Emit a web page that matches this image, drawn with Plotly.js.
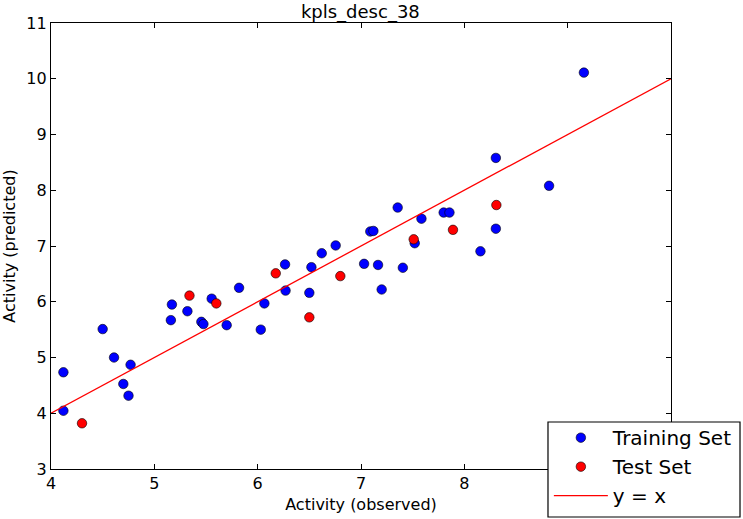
<!DOCTYPE html>
<html>
<head>
<meta charset="utf-8">
<script src="https://cdn.plot.ly/plotly-3.0.1.min.js"></script>
<style>body{margin:0;padding:0;background:#fff}#chart{width:743px;height:519px}</style>
</head>
<body>
<div id="chart"></div>
<script>
var trainObserved = [4.12, 4.12, 4.50, 4.61, 4.70, 4.75, 4.77, 5.16, 5.17, 5.32, 5.455, 5.475, 5.555, 5.70, 5.82, 6.03, 6.065, 6.265, 6.27, 6.52, 6.50, 6.62, 6.755, 7.09, 7.12, 7.03, 7.165, 7.20, 7.355, 7.585, 7.52, 7.405, 7.80, 7.856, 8.305, 8.305, 8.156, 8.82, 9.157];
var trainPredicted = [4.735, 4.045, 5.51, 5.0, 4.525, 4.315, 4.87, 5.67, 5.95, 5.83, 5.64, 5.60, 6.055, 5.58, 6.25, 5.50, 5.97, 6.67, 6.20, 6.62, 6.16, 6.87, 7.01, 7.26, 7.27, 6.68, 6.66, 6.22, 7.69, 7.49, 7.05, 6.61, 7.60, 7.60, 8.58, 7.31, 6.905, 8.08, 10.11];
var testObserved = [4.30, 5.34, 5.60, 6.175, 6.50, 6.80, 7.51, 7.89, 8.31];
var testPredicted = [3.82, 6.11, 5.97, 6.51, 5.72, 6.46, 7.12, 7.29, 7.735];
var lineX = [4, 10];
var lineY = [4, 10];
var xTicks = [4, 5, 6, 7, 8, 9, 10];
var xTickLabels = ["4", "5", "6", "7", "8", "", ""];
var yTicks = [3, 4, 5, 6, 7, 8, 9, 10, 11];
var yTickLabels = ["3", "4", "5", "6", "7", "8", "9", "10", "11"];

var font = "DejaVu Sans, sans-serif";
var traces = [
  {x: trainObserved, y: trainPredicted, mode: "markers", type: "scatter", name: "Training Set", legendgroup: "a",
   marker: {color: "#0000ff", size: 9.5, line: {color: "#000", width: 0.6}}},
  {x: testObserved, y: testPredicted, mode: "markers", type: "scatter", name: "Test Set", legendgroup: "b",
   marker: {color: "#ff0000", size: 9.5, line: {color: "#000", width: 0.6}}},
  {x: lineX, y: lineY, mode: "lines", type: "scatter", name: "y = x", legendgroup: "c",
   line: {color: "#ff0000", width: 1.3}}
];
var axisCommon = {
  showgrid: false, zeroline: false, showline: true, linecolor: "#000", linewidth: 1.2,
  mirror: "allticks", ticks: "inside", ticklen: 5, tickcolor: "#000", tickwidth: 1,
  tickfont: {family: font, size: 16, color: "#000"}
};
var layout = {
  width: 743, height: 519,
  margin: {l: 51, r: 72, t: 23, b: 50, autoexpand: false},
  paper_bgcolor: "#fff", plot_bgcolor: "#fff",
  title: {text: "kpls_desc_38", font: {family: font, size: 18, color: "#000"}, x: 0.485, xanchor: "center", y: 0.978, yanchor: "middle"},
  xaxis: Object.assign({}, axisCommon, {range: [4, 10], tickvals: xTicks, ticktext: xTickLabels,
    title: {text: "Activity (observed)", font: {family: font, size: 16, color: "#000"}, standoff: 6}}),
  yaxis: Object.assign({}, axisCommon, {range: [3, 11], tickvals: yTicks, ticktext: yTickLabels,
    title: {text: "Activity (predicted)", font: {family: font, size: 16, color: "#000"}, standoff: 8}}),
  shapes: [{type: "rect", xref: "paper", yref: "paper", x0: 0.8016, x1: 1.1113, y0: -0.1076, y1: 0.1054,
    fillcolor: "#fff", line: {color: "#000", width: 1.2}, layer: "above"}],
  showlegend: true,
  legend: {x: 0.803, y: 0.114, xanchor: "left", yanchor: "top", bgcolor: "rgba(0,0,0,0)", borderwidth: 0,
    font: {family: font, size: 20, color: "#000"}, itemwidth: 54, traceorder: "grouped", tracegroupgap: 0},
  font: {family: font}
};
Plotly.newPlot("chart", traces, layout, {displayModeBar: false, staticPlot: true});
</script>
</body>
</html>
